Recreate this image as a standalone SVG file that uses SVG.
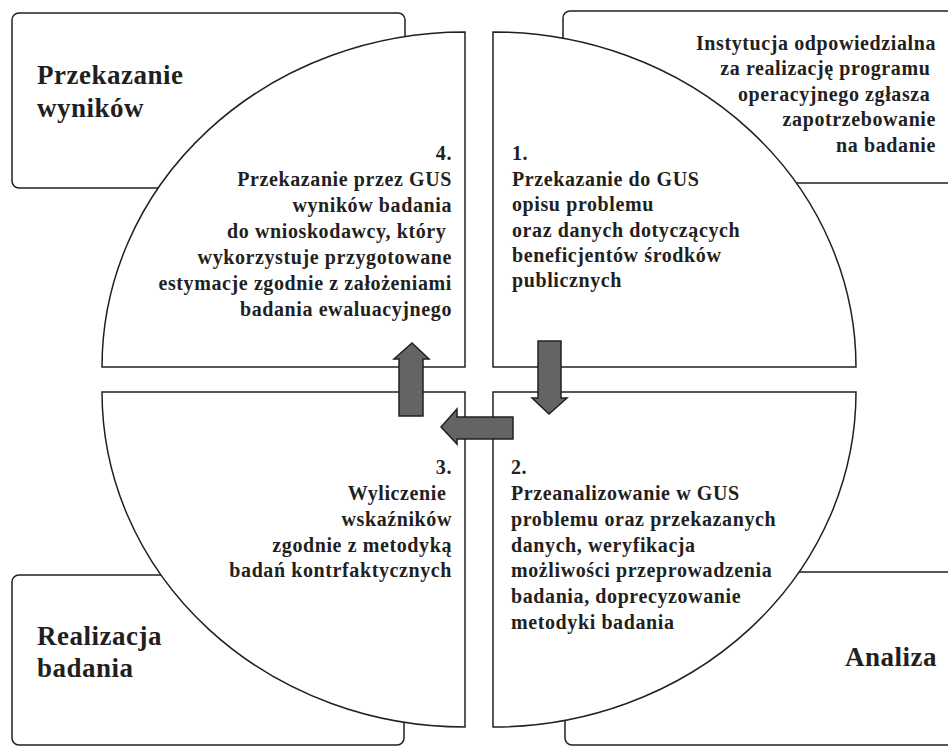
<svg xmlns="http://www.w3.org/2000/svg" width="948" height="746" viewBox="0 0 948 746">
<style>
.box{fill:#fff;stroke:#231f20;stroke-width:1.5}
.q{fill:#fff;stroke:#231f20;stroke-width:1.5}
.arr{fill:#636466;stroke:#231f20;stroke-width:1.5;stroke-linejoin:miter}
text{font-family:"Liberation Serif","Times New Roman",serif;font-weight:bold;fill:#231f20}
.t{font-size:27px;letter-spacing:0.5px}
.b{font-size:20px;letter-spacing:0.6px}
.r{text-anchor:end}
</style>
<rect width="948" height="746" fill="#fff"/>
<g id="box-przekazanie">
<rect class="box" x="12" y="13" width="393" height="175" rx="7"/>
<text class="t" x="37" y="84">Przekazanie</text>
<text class="t" x="37" y="117">wyników</text>
</g>
<g id="box-instytucja">
<rect class="box" x="563" y="11" width="400" height="172" rx="7"/>
<text class="b r" x="936" y="50">Instytucja odpowiedzialna</text>
<text class="b r" x="936" y="75" xml:space="preserve">za realizację programu </text>
<text class="b r" x="936" y="101" xml:space="preserve">operacyjnego zgłasza </text>
<text class="b r" x="936" y="126">zapotrzebowanie</text>
<text class="b r" x="936" y="152">na badanie</text>
</g>
<g id="box-realizacja">
<rect class="box" x="12" y="575" width="392" height="170" rx="7"/>
<text class="t" x="37" y="645">Realizacja</text>
<text class="t" x="37" y="677">badania</text>
</g>
<g id="box-analiza">
<rect class="box" x="565" y="572" width="400" height="173" rx="7"/>
<text class="t" x="845" y="666">Analiza</text>
</g>
<g id="q4">
<path class="q" d="M465,367 L102,367 A363,335 0 0 1 465,32 Z"/>
<text class="b r" x="452" y="160">4.</text>
<text class="b r" x="452" y="186">Przekazanie przez GUS</text>
<text class="b r" x="452" y="212">wyników badania</text>
<text class="b r" x="452" y="238" xml:space="preserve">do wnioskodawcy, który </text>
<text class="b r" x="452" y="264">wykorzystuje przygotowane</text>
<text class="b r" x="452" y="290">estymacje zgodnie z założeniami</text>
<text class="b r" x="452" y="316">badania ewaluacyjnego</text>
</g>
<g id="q1">
<path class="q" d="M493,367 L493,32 A363,335 0 0 1 856,367 Z"/>
<text class="b" x="512" y="160">1.</text>
<text class="b" x="512" y="186">Przekazanie do GUS</text>
<text class="b" x="512" y="211">opisu problemu</text>
<text class="b" x="512" y="237">oraz danych dotyczących</text>
<text class="b" x="512" y="262">beneficjentów środków</text>
<text class="b" x="512" y="287">publicznych</text>
</g>
<g id="q2">
<path class="q" d="M493,392 L856,392 A363,335 0 0 1 493,727 Z"/>
<text class="b" x="511" y="474">2.</text>
<text class="b" x="511" y="500">Przeanalizowanie w GUS</text>
<text class="b" x="511" y="526">problemu oraz przekazanych</text>
<text class="b" x="511" y="552">danych, weryfikacja</text>
<text class="b" x="511" y="577">możliwości przeprowadzenia</text>
<text class="b" x="511" y="603">badania, doprecyzowanie</text>
<text class="b" x="511" y="629">metodyki badania</text>
</g>
<g id="q3">
<path class="q" d="M465,392 L465,727 A363,335 0 0 1 102,392 Z"/>
<text class="b r" x="452" y="474">3.</text>
<text class="b r" x="452" y="500" xml:space="preserve">Wyliczenie </text>
<text class="b r" x="452" y="526">wskaźników</text>
<text class="b r" x="452" y="552">zgodnie z metodyką</text>
<text class="b r" x="452" y="577">badań kontrfaktycznych</text>
</g>
<g id="connectors">
<polygon class="arr" points="538,341 561,341 561,398 567,398 549,414 532,398 538,398"/>
<polygon class="arr" points="513,417 513,439 457,439 457,444 441,427 457,409 457,417"/>
<polygon class="arr" points="399,416 399,359 394,359 412,343 429,359 423,359 423,416"/>
</g>
</svg>
